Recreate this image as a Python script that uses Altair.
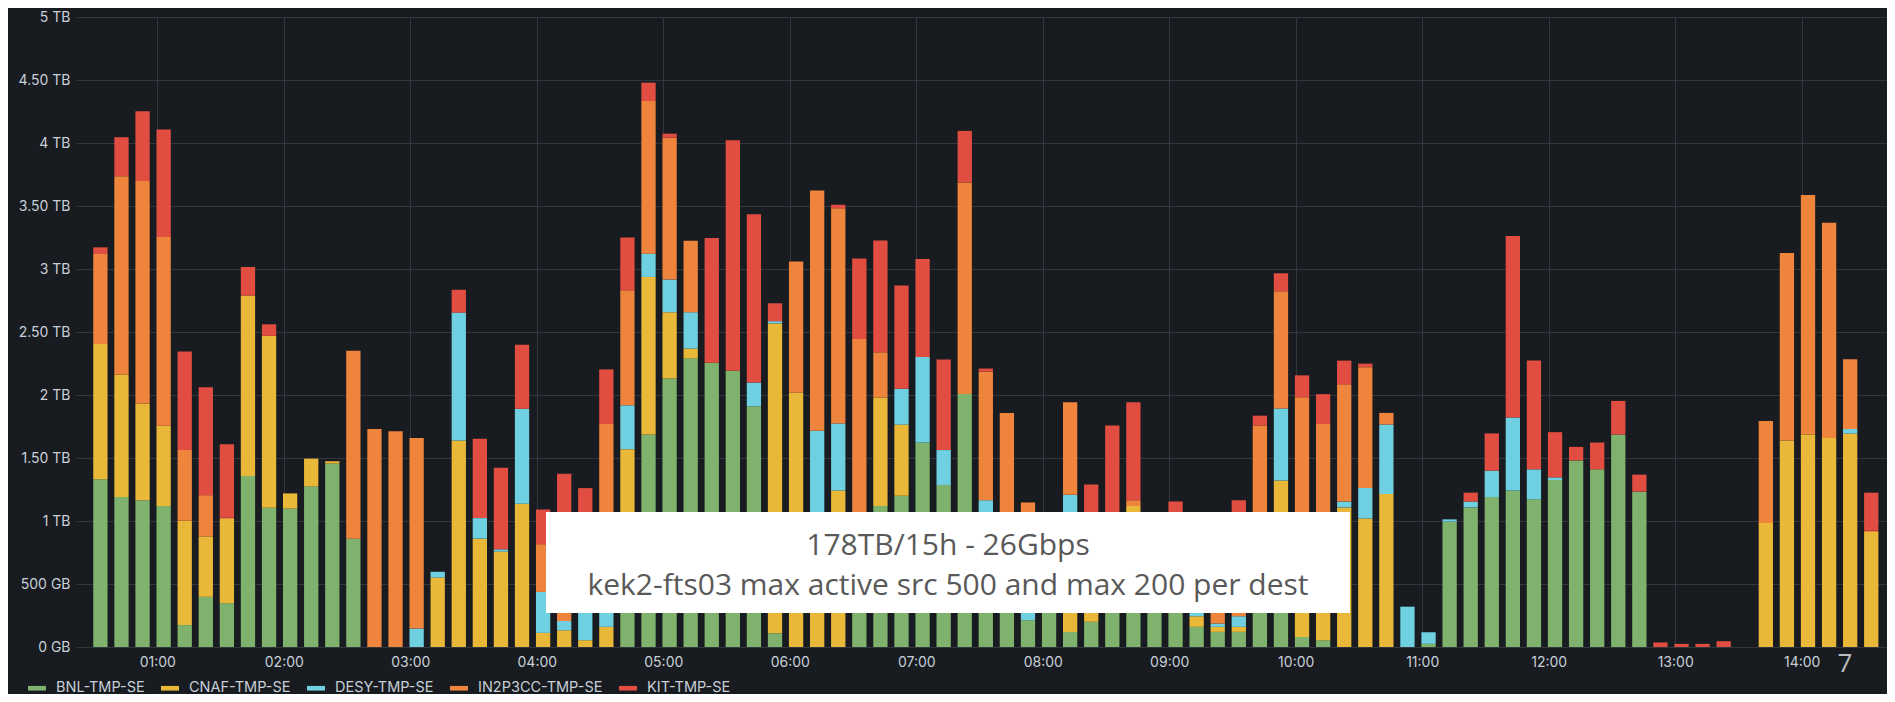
import altair as alt
import pandas as pd

# ---- data (TB per 10-minute bin) ----
series = ["BNL-TMP-SE", "CNAF-TMP-SE", "DESY-TMP-SE", "IN2P3CC-TMP-SE", "KIT-TMP-SE"]
colors = ["#7EB26D", "#EAB839", "#6ED0E0", "#EF843C", "#E24D42"]

first_bin_minute = 33   # centre of first bar (00:33)
bin_minutes = 10

bnl = [1.332, 1.19, 1.165, 1.119, 0.174, 0.398, 0.348, 1.357, 1.105, 1.098,
       1.275, 1.456, 0.86, 0, 0, 0, 0, 0, 0, 0,
       0, 0, 0, 0, 0, 0.9, 1.687, 2.131, 2.291, 2.256,
       2.192, 1.911, 0.109, 0, 0, 0, 0.8, 1.12, 1.2, 1.623,
       1.286, 2.007, 0.95, 1.0, 0.213, 0.95, 0.12, 0.2, 0.95, 1.0,
       0.95, 1.0, 0.16, 0.12, 0.12, 1.0, 0.9, 0.08, 0.054, 0,
       0, 0, 0, 0.025, 0.995, 1.108, 1.19, 1.243, 1.172, 1.325,
       1.481, 1.41, 1.687, 1.233, 0, 0, 0, 0, 0, 0,
       0, 0, 0, 0, 0]

cnaf = [1.073, 0.973, 0.767, 0.636, 0.828, 0.48, 0.668, 1.432, 1.364, 0.121,
        0.22, 0.018, 0, 0, 0, 0, 0.551, 1.638, 0.86, 0.757,
        1.137, 0.112, 0.133, 0.054, 0.16, 0.67, 1.25, 0.526, 0.078, 0,
        0, 0, 2.459, 2.018, 1.0, 1.243, 0, 0.86, 0.565, 0,
        0, 0, 0, 0, 0, 0.02, 0.6, 0.35, 0, 0.119,
        0, 0, 0.084, 0.04, 0.04, 0, 0.421, 0.9, 0.9, 1.108,
        1.02, 1.215, 0, 0, 0, 0, 0, 0, 0, 0,
        0, 0, 0, 0, 0, 0, 0, 0, 0, 0.984,
        1.638, 1.687, 1.659, 1.694, 0.913]

desy = [0, 0, 0, 0, 0, 0, 0, 0, 0, 0,
        0, 0, 0, 0, 0, 0.146, 0.046, 1.016, 0.163, 0.018,
        0.753, 0.325, 0.074, 0.4, 0.25, 0.348, 0.185, 0.259, 0.288, 0,
        0, 0.188, 0.018, 0, 0.716, 0.53, 0, 0, 0.284, 0.679,
        0.277, 0, 0.215, 0, 0.5, 0, 0.488, 0, 0, 0,
        0, 0, 0.3, 0.026, 0.084, 0, 0.572, 0, 0, 0.046,
        0.242, 0.551, 0.32, 0.092, 0.018, 0.046, 0.21, 0.579, 0.238, 0.021,
        0, 0, 0, 0, 0, 0, 0, 0, 0, 0,
        0, 0, 0, 0.036, 0]

in2p3 = [0.714, 1.574, 1.766, 1.499, 0.561, 0.327, 0.01, 0, 0, 0,
         0, 0, 1.492, 1.73, 1.712, 1.513, 0, 0, 0, 0,
         0, 0.379, 0.55, 0.35, 1.359, 0.913, 1.211, 1.126, 0.568, 0,
         0, 0, 0, 1.041, 1.908, 1.709, 1.645, 0.359, 0, 0,
         0, 1.68, 1.02, 0.858, 0.434, 0, 0.735, 0, 0, 0.046,
         0, 0, 0, 0.3, 0.1, 0.758, 0.931, 1.002, 0.815, 0.931,
         0.959, 0.092, 0, 0, 0, 0, 0, 0, 0, 0,
         0, 0, 0, 0, 0, 0, 0, 0, 0, 0.81,
         1.488, 1.9, 1.709, 0.554, 0.01]

kit = [0.053, 0.309, 0.554, 0.853, 0.782, 0.856, 0.583, 0.227, 0.092, 0,
       0, 0, 0, 0, 0, 0, 0, 0.181, 0.629, 0.647,
       0.508, 0.275, 0.618, 0.457, 0.434, 0.419, 0.146, 0.032, 0, 0.991,
       1.83, 1.336, 0.142, 0, 0, 0.028, 0.639, 0.888, 0.821, 0.778,
       0.718, 0.409, 0.025, 0, 0, 0, 0, 0.74, 0.808, 0.778,
       0, 0.155, 0, 0, 0.821, 0.078, 0.142, 0.174, 0.238, 0.188,
       0.028, 0, 0, 0, 0, 0.071, 0.295, 1.439, 0.863, 0.359,
       0.107, 0.213, 0.266, 0.135, 0.036, 0.025, 0.025, 0.046, 0, 0,
       0, 0, 0, 0, 0.302]

hour_ticks = [60 * h for h in range(1, 15)]
y_ticks = [0, 0.5, 1, 1.5, 2, 2.5, 3, 3.5, 4, 4.5, 5]

note_line1 = "178TB/15h - 26Gbps"
note_line2 = "kek2-fts03 max active src 500 and max 200 per dest"
slide_number = "7"

# ---- long table ----
rows = []
for si, (name, vals) in enumerate(zip(series, [bnl, cnaf, desy, in2p3, kit])):
    for i, v in enumerate(vals):
        if v > 0:
            rows.append({"minute": first_bin_minute + i * bin_minutes,
                         "value": v, "host": name, "idx": si})
df = pd.DataFrame(rows)

W, H = 1811, 630
FONT = "Inter"
TXT = "#c7d0d9"

bars = alt.Chart(df).mark_bar(size=14.3).encode(
    x=alt.X("minute:Q",
            scale=alt.Scale(domain=[23.8, 878.1], nice=False, zero=False),
            axis=alt.Axis(values=hour_ticks, title=None, grid=True, domain=False,
                          ticks=False, labelPadding=8, labelOverlap=False,
                          labelExpr="(datum.value/60 < 10 ? '0' : '') + (datum.value/60) + ':00'")),
    y=alt.Y("value:Q", stack="zero",
            scale=alt.Scale(domain=[0, 5], nice=False),
            axis=alt.Axis(values=y_ticks, title=None, grid=True, domain=False,
                          ticks=False, labelPadding=6, labelOverlap=False,
                          labelExpr="datum.value == 0 ? '0 GB' : datum.value == 0.5 ? '500 GB' : "
                                    "(datum.value % 1 == 0 ? format(datum.value, 'd') : format(datum.value, '.2f')) + ' TB'")),
    color=alt.Color("host:N", scale=alt.Scale(domain=series, range=colors), title=None,
                    legend=alt.Legend(orient="none", legendX=-48, legendY=662, direction="horizontal",
                                      symbolType="M-1,-0.26H1V0.26H-1Z", symbolSize=324,
                                      symbolStrokeWidth=0, labelOffset=10, columnPadding=16,
                                      labelFont=FONT, labelFontSize=14.5, labelColor=TXT,
                                      padding=0)),
    order=alt.Order("idx:Q", sort="ascending"),
)

one = pd.DataFrame({"k": [0]})
box = alt.Chart(one).mark_rect(color="white").encode(
    x=alt.value(470), x2=alt.value(1274), y=alt.value(495), y2=alt.value(596))
t1 = alt.Chart(one).mark_text(font="Open Sans", fontSize=30, color="#595959",
                              align="center", baseline="alphabetic").encode(
    x=alt.value(872), y=alt.value(538), text=alt.value(note_line1))
t2 = alt.Chart(one).mark_text(font="Open Sans", fontSize=30, color="#595959",
                              align="center", baseline="alphabetic").encode(
    x=alt.value(872), y=alt.value(578), text=alt.value(note_line2))
t7 = alt.Chart(one).mark_text(font="Open Sans", fontSize=26, color="#bdbdbd",
                              align="center", baseline="alphabetic").encode(
    x=alt.value(1769), y=alt.value(655), text=alt.value(slide_number))

chart = alt.layer(bars, box, t1, t2, t7).properties(
    width=W, height=H,
    autosize=alt.AutoSizeParams(type="none"),
    padding={"left": 68, "top": 9, "right": 0, "bottom": 47},
    background="#181b1f",
).configure_view(stroke=None).configure_axis(
    labelFont=FONT, labelFontSize=14, labelColor=TXT,
    gridColor="#33373d", gridWidth=1,
)

chart.save("out.html", embed_options={"renderer": "svg", "actions": False})
